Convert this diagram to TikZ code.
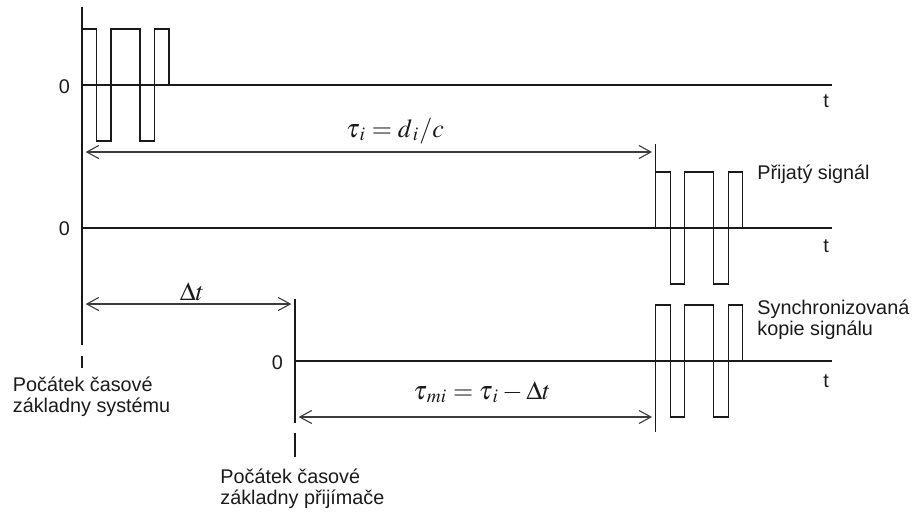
\documentclass[tikz,border=0pt]{standalone}
\usepackage{mathptmx}
\usepackage[no-math]{fontspec}
\setmainfont{Liberation Sans}
\usetikzlibrary{arrows.meta, positioning, calc}
\definecolor{ink}{HTML}{1A1A1A}
\definecolor{dimgrey}{HTML}{3C3C3C}
\tikzset{
  axis/.style={line width=0.65pt, ink},
  wave/.style={line width=0.65pt, ink},
  tick/.style={line width=0.6pt, ink},
  span/.style={{Straight Barb[length=6pt,width=6.5pt]}-{Straight Barb[length=6pt,width=6.5pt]},
    line width=0.55pt, dimgrey, shorten <=1.8pt, shorten >=1.8pt},
  lbl/.style={font=\fontsize{9.9}{10.5}\selectfont, text=ink, inner sep=0pt, align=left},
  eqn/.style={font=\fontsize{13}{15}\selectfont, text=ink, inner sep=0pt},
  chips/.pic={\draw[wave] (0,0) -- (0,-56) -| (14.5,56) -| (29,-56) -| (58,56) -| (72.5,-56) -| (87,0);},
}

\begin{document}
\begin{tikzpicture}[x=0.5pt, y=-0.5pt]
\useasboundingbox (0,0) rectangle (912,511);
% time origins
\coordinate (sysO) at (82,85);
\coordinate (rxO) at (295,361);
\coordinate (rcvO) at (655.7,228);
\coordinate (synO) at (655.7,361);

% axes
\draw[axis] (82,7) -- (82,345);
\draw[axis] (sysO) -- (832,85);
\draw[axis] (82,228) -- (832,228);
\draw[axis] (295,299) -- (295,423);
\draw[axis] (rxO) -- (832,361);
\draw[tick] (82,356) -- (82,368);
\draw[tick] (295,433) -- (295,457);

% signals
\pic at (sysO) {chips};
\pic at (rcvO) {chips};
\pic at (synO) {chips};
\draw[tick] (655.7,144) -- (655.7,171);
\draw[tick] (synO) -- (655.7,432);

% delays
\coordinate (tauA) at (82,152);
\coordinate (tauB) at (655.7,152);
\coordinate (dtA) at (82,304);
\coordinate (dtB) at (295,304);
\coordinate (tmA) at (295,417);
\coordinate (tmB) at (655.7,417);
\draw[span] (tauA) -- (tauB);
\draw[span] (dtA) -- (dtB);
\draw[span] (tmA) -- (tmB);
\node[eqn, anchor=base] (tauI) at (395,137) {$\tau_{\,i} = d_{\,i}/c$};
\node[eqn, anchor=base] (dT) at (192,300) {$\Delta t$};
\node[eqn, anchor=base] (tauMI) at (482,399) {$\tau_{\,mi} = \tau_{\,i} - \Delta t$};

% labels
\node[lbl, anchor=base] (zero1) at (64.5,93) {0};
\node[lbl, anchor=base] (zero2) at (64.5,235) {0};
\node[lbl, anchor=base] (zero3) at (277.5,369) {0};
\node[lbl, anchor=base] (t1) at (826,107) {t};
\node[lbl, anchor=base] (t2) at (826,252) {t};
\node[lbl, anchor=base] (t3) at (826,387) {t};
\node[lbl, anchor=base west] (rcvSig) at (757,179) {Přijatý signál};
\node[lbl, anchor=base west] (synSig) at (757,335) {Synchronizovaná\\kopie signálu};
\node[lbl, anchor=base west] (sysStart) at (12.5,412) {Počátek časové\\základny systému};
\node[lbl, anchor=base west] (rxStart) at (220,504) {Počátek časové\\základny přijímače};
\end{tikzpicture}
\end{document}
